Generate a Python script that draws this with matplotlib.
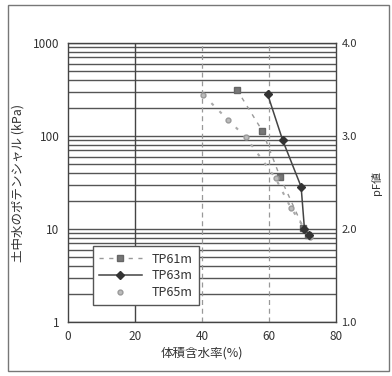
import matplotlib
matplotlib.use("Agg")
import matplotlib.pyplot as plt
from matplotlib.patches import Rectangle
from matplotlib.lines import Line2D

plt.rcParams['font.family'] = ['Noto Sans CJK JP', 'DejaVu Sans']

# water content (%) vs soil water potential (kPa)
tp61_theta = [50.4, 58.0, 63.3, 70.3, 71.8]
tp61_psi = [316, 114, 36.5, 10.2, 8.7]
tp63_theta = [59.6, 64.1, 69.6, 70.6, 72.0]
tp63_psi = [281, 90, 28.5, 10.0, 8.6]
tp65_theta = [40.4, 47.7, 53.0, 62.0, 66.5, 72.2]
tp65_psi = [276, 150, 98, 35, 17, 8.3]

x_ticks = [0, 20, 40, 60, 80]
y_ticks = [1, 10, 100, 1000]
pf_ticks = [1.0, 2.0, 3.0, 4.0]

fig = plt.figure(figsize=(3.92, 3.76), dpi=100)
ax = fig.add_axes([0.1735, 0.1436, 0.6835, 0.742])

ax.set_yscale('log')
ax.set_xlim(0, 80)
ax.set_ylim(1, 1000)

# dense horizontal grid (log minor lines)
ax.grid(True, which='both', axis='y', color='#555555', linewidth=1.0)
ax.axvline(20, color='#444444', linewidth=1.0)
for xv in [40, 60]:
    ax.axvline(xv, color='#999999', linewidth=0.9, linestyle=(0, (4, 3)))

s61 = dict(color='#999999', linestyle=(0, (3, 4)), linewidth=1.0,
           marker='s', markersize=5, markerfacecolor='#777777', markeredgecolor='#666666')
s63 = dict(color='#444444', linestyle='-', linewidth=1.1,
           marker='D', markersize=4.5, markerfacecolor='#333333', markeredgecolor='#333333')
s65 = dict(color='#aaaaaa', linestyle=(0, (1.5, 4)), linewidth=1.5,
           marker='o', markersize=3.5, markerfacecolor='#bbbbbb', markeredgecolor='#999999')

ax.plot(tp61_theta, tp61_psi, zorder=3, **s61)
ax.plot(tp63_theta, tp63_psi, zorder=4, **s63)
ax.plot(tp65_theta, tp65_psi, zorder=3, **s65)

ax.set_xticks(x_ticks)
ax.set_xticklabels([str(v) for v in x_ticks], fontsize=8.5, color='#333333')
ax.set_yticks(y_ticks)
ax.set_yticklabels([str(v) for v in y_ticks], fontsize=8.5, color='#333333')
ax.minorticks_on()
ax.tick_params(axis='both', which='both', length=0, pad=6)
ax.tick_params(axis='x', which='minor', bottom=False)
ax.tick_params(axis='y', which='minor', left=False, labelleft=False)

for s in ax.spines.values():
    s.set_color('#444444')
    s.set_linewidth(1.0)

ax.set_xlabel('体積含水率(%)', fontsize=9, color='#333333', labelpad=2)
ax.set_ylabel('土中水のポテンシャル (kPa)', fontsize=9, color='#333333', labelpad=6)

ax2 = ax.twinx()
ax2.set_ylim(1.0, 4.0)
ax2.set_yticks(pf_ticks)
ax2.set_yticklabels(['%.1f' % v for v in pf_ticks], fontsize=8, color='#333333')
ax2.tick_params(axis='y', length=0, pad=4)
ax2.set_ylabel('pF値', fontsize=8, color='#333333', labelpad=10)
for s in ax2.spines.values():
    s.set_visible(False)

s65_leg = dict(s65)
s65_leg['linestyle'] = 'none'
handles = [Line2D([], [], **s61), Line2D([], [], **s63), Line2D([], [], **s65_leg)]
leg = ax.legend(handles, ['TP61m', 'TP63m', 'TP65m'], loc='lower left',
                bbox_to_anchor=(0.093, 0.06), fontsize=9,
                frameon=True, fancybox=False, framealpha=1, edgecolor='#555555',
                handlelength=3.4, labelspacing=0.3, borderpad=0.5,
                handletextpad=0.8, borderaxespad=0)
leg.get_frame().set_linewidth(1.0)
for t in leg.get_texts():
    t.set_color('#333333')

# scan-like outer frame
fig.patches.append(Rectangle((0.02, 0.012), 0.972, 0.976, transform=fig.transFigure,
                             fill=False, edgecolor='#777777', linewidth=1.0))

fig.savefig('out.png', dpi=100)
